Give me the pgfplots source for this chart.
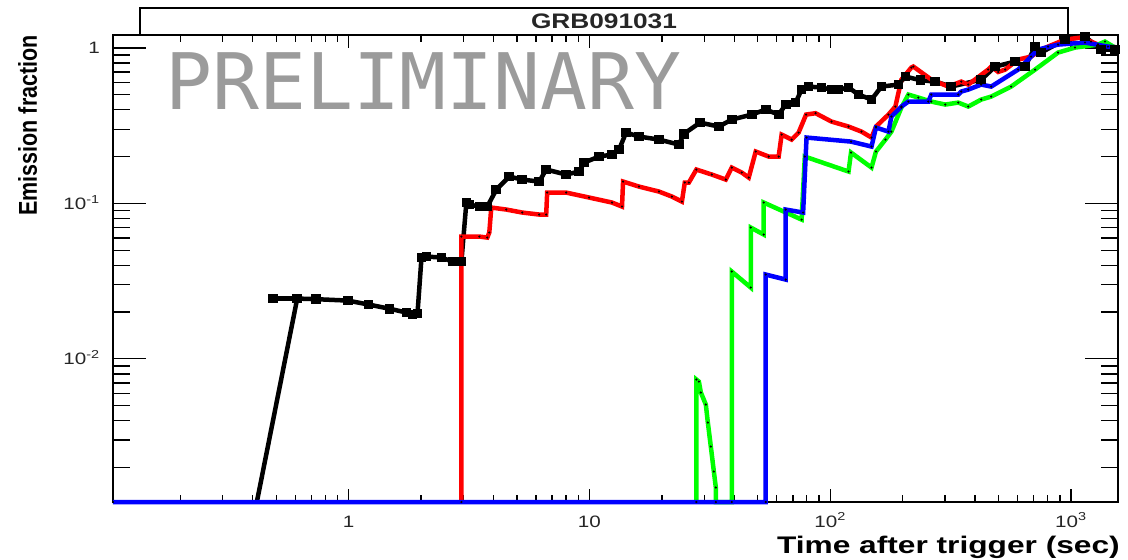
\documentclass[border=0pt]{standalone}
\usepackage{pgfplots}
\pgfplotsset{compat=1.18}
\usepackage{fontspec}
\setmainfont{Liberation Sans}
\newfontfamily\monofont{DejaVu Sans Mono}
\definecolor{rred}{RGB}{255,0,0}
\definecolor{rgreen}{RGB}{0,255,0}
\definecolor{rblue}{RGB}{0,0,255}
\definecolor{prelim}{RGB}{155,155,155}
\newcommand{\sx}[1]{\scalebox{1.25}[1]{#1}}
\begin{document}
\begin{tikzpicture}
\useasboundingbox (-113bp,-58bp) rectangle (1015bp,502bp);
\begin{axis}[
  at={(0bp,0bp)}, anchor=south west,
  scale only axis, width=1005bp, height=467bp,
  xmode=log, ymode=log,
  xmin=0.105, xmax=1568, ymin=0.0012, ymax=1.21,
  xtick={1,10,100,1000},
  xticklabels={\sx{1},\sx{10},\sx{10\textsuperscript{2}},\sx{10\textsuperscript{3}}},
  ytick={0.01,0.1,1},
  yticklabels={\sx{10\textsuperscript{-2}},\sx{10\textsuperscript{-1}},\sx{1}},
  minor xtick={0.2,0.3,0.4,0.5,0.6,0.7,0.8,0.9,2,3,4,5,6,7,8,9,20,30,40,50,60,70,80,90,200,300,400,500,600,700,800,900},
  minor ytick={0.002,0.003,0.004,0.005,0.006,0.007,0.008,0.009,0.02,0.03,0.04,0.05,0.06,0.07,0.08,0.09,0.2,0.3,0.4,0.5,0.6,0.7,0.8,0.9},
  tick align=inside,
  axis line style={line width=1.5bp},
  tick style={black, line width=1.3bp},
  xtick style={/pgfplots/major tick length=13bp, /pgfplots/minor tick length=7bp},
  ytick style={/pgfplots/major tick length=33bp, /pgfplots/minor tick length=17bp},
  tick label style={font=\fontsize{16.5bp}{18bp}\selectfont, text=black!85, inner sep=0pt},
  xticklabel style={anchor=base, yshift=-25bp},
  yticklabel style={anchor=base east, xshift=-13bp, yshift=-6bp},
  clip=false,
]
% black series: initial rise
\addplot[black, line width=4.5bp, no marks] table {
0.4156 0.0012
0.6115 0.02442
};
% black series
\addplot[black, line width=4.5bp, mark=square*, mark size=2.6bp] table {
0.6115 0.02442
0.7298 0.02420
0.9905 0.02370
1.210 0.02235
1.479 0.0210
1.739 0.01985
1.842 0.01927
1.932 0.01956
2.007 0.04481
2.105 0.04549
2.429 0.04481
2.698 0.04223
2.940 0.04223
3.083 0.1012
3.172 0.09824
3.491 0.09537
3.767 0.09537
4.106 0.1227
4.648 0.1487
5.262 0.1422
6.187 0.1381
6.615 0.1650
8.008 0.1532
9.065 0.1602
9.506 0.1830
10.97 0.2000
12.42 0.2060
13.28 0.2218
14.20 0.2853
16.07 0.2689
19.45 0.2572
23.53 0.2388
24.69 0.2800
28.8 0.3308
34.47 0.3118
39.03 0.3458
47.24 0.3725
54.0 0.4010
61.11 0.3725
65.34 0.4319
71.88 0.4448
76.12 0.5393
81.37 0.5638
92.1 0.5555
101.3 0.5393
108.3 0.5393
119.2 0.5555
131.2 0.5008
148.5 0.4651
163.3 0.5638
192.1 0.5807
205.4 0.6537
237 0.62
273.4 0.6069
318.5 0.5638
424.1 0.6254
484.7 0.7582
586.6 0.8163
645.3 0.7582
710.0 1.0195
751.8 0.9328
945.2 1.131
1144 1.182
1333 0.9752
1523 0.9752
};
\addplot[black, line width=4.5bp, mark=square*, mark size=2.6bp] table {
0.4842 0.02442
0.6115 0.02442
};
% red series
\addplot[rred, line width=4.5bp, mark=*, mark size=0.8bp, mark options={black, fill=black, line width=0.5bp}] table {
2.940 0.0012
2.940 0.06116
3.491 0.06116
3.767 0.06026
3.839 0.06492
3.913 0.09397
4.516 0.09124
5.262 0.08728
6.187 0.08472
6.615 0.08472
6.678 0.1173
8.008 0.1173
9.97 0.1090
12.42 0.1012
13.66 0.09537
13.8 0.1381
16.07 0.1282
19.45 0.1191
22.01 0.1106
24.22 0.1027
24.9 0.1361
25.89 0.1361
27.82 0.1650
32.25 0.1532
36.86 0.1422
39.03 0.1699
42.94 0.1578
45.9 0.1465
49.07 0.2154
55.55 0.2000
61.11 0.2000
62.88 0.2769
69.19 0.2572
73.96 0.2853
79.45 0.3725
87.0 0.3800
101.3 0.3357
119.2 0.3118
134.9 0.2894
148.5 0.2650
155.0 0.3118
174.6 0.3725
186.6 0.4193
197.7 0.6254
217.4 0.7471
221.6 0.7582
263.1 0.6254
309.5 0.5638
350.4 0.6069
374.6 0.5807
453.4 0.7253
466.6 0.7582
498.8 0.7000
533.3 0.7253
603.6 0.8409
683.4 0.8792
751.8 0.9752
803.7 1.0195
945.2 1.131
1101 1.165
1212 1.098
1295 1.050
1466 1.0195
1568 1.0045
};
% green series
\addplot[rgreen, line width=4.5bp, mark=*, mark size=0.8bp, mark options={black, fill=black, line width=0.5bp}] table {
27.82 0.0012
27.82 0.00736
28.49 0.007145
29.04 0.006072
30.45 0.005083
31.04 0.003895
31.94 0.002729
32.88 0.001885
33.51 0.001487
33.51 0.0012
39.03 0.0012
39.03 0.03642
46.8 0.02874
46.8 0.06989
52.97 0.06299
52.97 0.1012
76.12 0.07866
78.5 0.2000
119.2 0.1602
122.1 0.2122
148.5 0.1699
155.0 0.2154
169.7 0.2572
179.7 0.2894
197.7 0.4131
211.3 0.5008
232.4 0.4791
263.1 0.4515
300.8 0.4319
340.5 0.4448
374.6 0.4193
424.1 0.4651
466.6 0.4862
564.7 0.5638
710.0 0.7253
884.3 0.9328
1040 1.0045
1295 1.050
1385 1.098
1523 1.0045
1568 0.98
};
% blue series
\addplot[rblue, line width=4.5bp, mark=*, mark size=0.8bp, mark options={black, fill=black, line width=0.5bp}] table {
0.105 0.0012
54.0 0.0012
54.0 0.03484
65.34 0.03236
65.34 0.09124
77.22 0.08728
79.8 0.2650
122.1 0.2496
148.5 0.2319
155.0 0.3073
174.6 0.2894
179.7 0.3616
197.7 0.4193
211.3 0.4515
255.7 0.4515
263.1 0.5008
340.5 0.5008
350.4 0.5236
374.6 0.5393
424.1 0.5807
466.6 0.5638
603.6 0.7253
730.6 0.9752
884.3 1.050
1144 1.082
1425 1.0195
1568 1.0045
};
\end{axis}
% title box
\draw[line width=1.5bp, fill=white] (27bp,467bp) rectangle (955bp,494bp);
\node[font=\fontsize{21bp}{24bp}\selectfont\bfseries, inner sep=0pt, text=black!85] at (491bp,481bp) {\sx{GRB091031}};
% preliminary
\node[font=\monofont\fontsize{78bp}{80bp}\selectfont, text=prelim, anchor=base west, inner sep=0pt] at (52bp,392bp) {PRELIMINARY};
% axis labels
\node[font=\fontsize{24bp}{26bp}\selectfont\bfseries, anchor=base east, inner sep=0pt] at (1007bp,-51bp) {\scalebox{1.32}[1]{Time after trigger (sec)}};
\node[font=\fontsize{21.5bp}{24bp}\selectfont\bfseries, rotate=90, anchor=base east, inner sep=0pt] at (-76bp,467bp) {\scalebox{1}[1.2]{Emission fraction}};
\end{tikzpicture}
\end{document}
